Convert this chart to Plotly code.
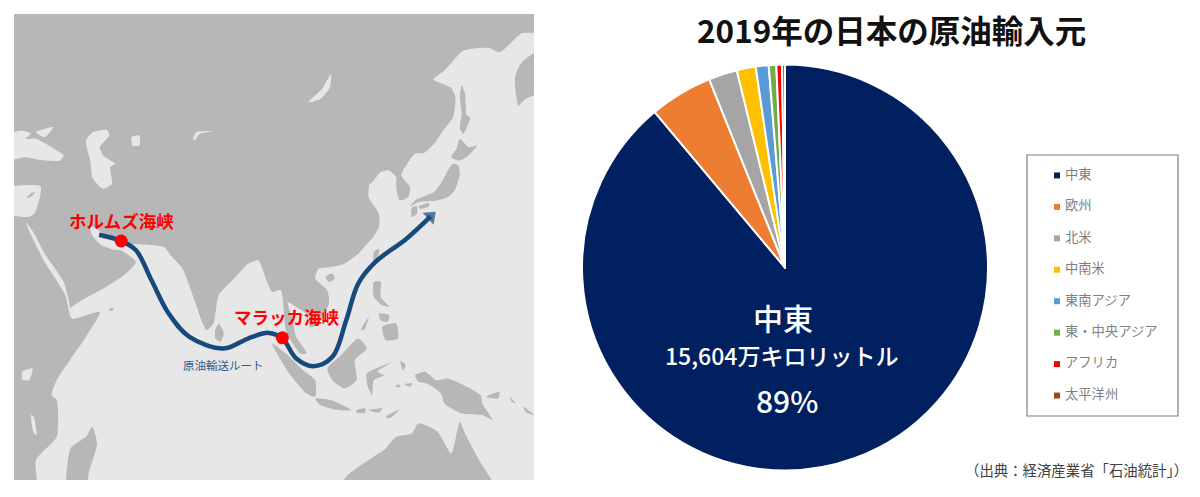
import plotly.graph_objects as go

# ---- pie data ----
regions = ["中東", "欧州", "北米", "中南米", "東南アジア", "東・中央アジア", "アフリカ", "太平洋州"]
volumes = [15604, 880, 400, 265, 180, 105, 80, 40]
colors = ["#002060", "#ed7d31", "#a5a5a5", "#ffc000", "#5b9bd5", "#70ad47", "#ff0000", "#9e480e"]
legend_x = [0] * 8
legend_rank = list(range(8))

LAND = "#b7b7b7"
SEA = "#e7e7e7"
ROUTE = "#174a7c"
OFF = 720  # the lower half of the map outlines is listed from this row


def low(pts):
    return [(x, y + OFF) for x, y in pts]


# ---- map outlines (map units); points beyond the frame are clipped by the axes ----
eurasia_africa = [(-100, -100), (1700, -100), (1700, 98), (1515, 98), (1480, 130), (1450, 155), (1420, 142), (1345, 150),
                  (1320, 175), (1290, 210), (1258, 237), (1285, 250), (1310, 262), (1322, 290), (1315, 350), (1290, 385),
                  (1260, 430), (1230, 458), (1205, 460), (1170, 510), (1165, 525), (1190, 560), (1185, 590), (1160, 600),
                  (1150, 560), (1150, 530), (1130, 510), (1105, 515), (1075, 550), (1050, 530), (1090, 498), (1100, 510),
                  (1075, 540), (1070, 590), (1100, 640), (1100, 680), (1080, 715)] + low([
                  (1075, 0), (1040, 40), (1000, 70), (960, 80), (925, 85), (915, 115), (950, 150), (955, 190), (925, 250),
                  (900, 262), (895, 225), (860, 200), (835, 185), (850, 240), (860, 290), (890, 340), (872, 340), (850, 310),
                  (830, 270), (815, 150), (790, 155), (770, 110), (750, 60), (720, 70), (680, 115), (635, 165), (620, 250),
                  (600, 270), (585, 240), (565, 180), (530, 85), (500, 50), (475, 20), (395, 12)]) + [
                  (370, 730), (300, 700), (262, 675), (268, 705), (295, 735), (330, 748)] + low([
                  (350, 30), (395, 65), (360, 105), (300, 145), (205, 205), (210, 235), (290, 215), (250, 290), (165, 420),
                  (150, 465), (165, 480), (165, 590), (105, 660), (108, 800), (-100, 800)])

islands = [
    [(1310, 470), (1325, 445), (1335, 415), (1360, 440), (1385, 435), (1360, 465), (1335, 480)],
    [(1315, 490), (1330, 495), (1335, 520), (1320, 570), (1300, 590), (1270, 600), (1215, 605), (1190, 620),
     (1205, 600), (1260, 575), (1285, 540), (1300, 510)],
    [(1195, 622), (1210, 617), (1210, 640), (1195, 650)],
    [(1215, 618), (1245, 608), (1245, 618), (1220, 625)],
    [(1340, 255), (1350, 280), (1355, 345), (1365, 350), (1345, 400), (1335, 385), (1340, 340), (1335, 290)],
    [(1650, 100), (1515, 185), (1495, 230), (1505, 315), (1525, 295), (1650, 240)],
    [(92, 578), (102, 575), (90, 590), (78, 592)],
    low([(1085, 35), (1100, 25), (1098, 50), (1085, 65)]),
    low([(945, 110), (965, 100), (972, 115), (955, 125)]),
    low([(1085, 125), (1105, 125), (1105, 170), (1130, 200), (1110, 195), (1085, 170)]),
    low([(1110, 260), (1150, 250), (1155, 295), (1120, 300)]),
    low([(1100, 220), (1130, 225), (1125, 245), (1105, 240)]),
    low([(1048, 268), (1070, 232), (1058, 268)]),
    low([(1040, 295), (1065, 325), (1030, 360), (1035, 420), (1000, 445), (965, 420), (950, 385), (990, 345)]),
    low([(1065, 400), (1135, 368), (1095, 395), (1115, 405), (1085, 420), (1080, 465), (1065, 430)]),
    low([(790, 310), (830, 340), (880, 390), (915, 420), (915, 470), (890, 460), (840, 400)]),
    low([(915, 475), (960, 480), (1020, 510), (980, 510), (930, 495)]),
    low([(1035, 510), (1060, 505), (1060, 518), (1035, 518)]),
    low([(1070, 510), (1110, 505), (1100, 518)]),
    low([(1120, 530), (1160, 508), (1130, 535)]),
    low([(1150, 435), (1160, 433), (1160, 441), (1150, 441)]),
    low([(1175, 432), (1198, 430), (1190, 440)]),
    low([(1162, 362), (1178, 375), (1170, 392)]),
    low([(1205, 405), (1235, 395), (1265, 420), (1300, 415), (1395, 465), (1400, 490), (1430, 540), (1400, 525),
         (1340, 520), (1290, 490), (1280, 460), (1240, 430), (1215, 425)]),
    low([(1410, 470), (1450, 455), (1445, 475)]),
    low([(1480, 470), (1497, 490), (1485, 485)]),
    low([(1520, 500), (1550, 525), (1525, 515)]),
    low([(960, 800), (1005, 710), (1100, 640), (1115, 630), (1150, 590), (1195, 580), (1215, 550), (1270, 575),
         (1310, 640), (1335, 545), (1350, 580), (1385, 650), (1460, 800)]),
    low([(195, 800), (205, 625), (250, 590), (268, 560), (282, 610), (260, 690), (235, 800)]),
    low([(625, 270), (635, 250), (650, 280), (640, 305), (625, 295)]),
    low([(318, 205), (330, 205), (328, 211), (318, 211)]),
]

waters = [
    [(-20, 425), (60, 390), (90, 400), (75, 415), (105, 415), (150, 440), (185, 465), (175, 480), (130, 480), (70, 470), (-20, 490)],
    [(105, 395), (155, 380), (130, 410)],
    [(250, 420), (270, 395), (310, 388), (318, 405), (290, 440), (300, 465), (335, 490), (320, 500), (325, 550), (300, 565),
     (270, 535), (262, 480)],
    [(382, 410), (405, 405), (405, 435), (385, 435)],
    [(560, 415), (570, 395), (618, 392), (580, 400), (565, 420)],
    [(895, 305), (935, 265), (960, 222), (958, 260), (930, 295)],
    [(-20, 570), (118, 558), (100, 640), (80, 650), (-20, 628)],
    [(75, 665), (100, 700)] + low([(130, 40), (185, 125), (205, 205), (205, 235), (190, 165), (130, 65), (100, 5)]),
    low([(65, 395), (95, 385), (85, 420), (65, 418)]),
    low([(90, 525), (98, 530), (107, 585), (98, 578)]),
]

route_x = [288, 352, 395, 440, 490, 550, 650, 720, 780, 820, 860, 910, 965, 1005, 1040, 1090, 1180, 1250]
route_y = [703, 722, 750, 840, 940, 1010, 1045, 1015, 998, 1015, 1075, 1098, 1070, 960, 850, 785, 715, 648]
straits = ["ホルムズ海峡", "マラッカ海峡"]
strait_x = [352, 820]
strait_y = [722, 1013]


def flat(polys):
    xs, ys = [], []
    for p in polys:
        xs += [a for a, _ in p] + [p[0][0], None]
        ys += [b for _, b in p] + [p[0][1], None]
    return xs, ys


W, H = 1200, 497
JP = "Noto Sans CJK JP"
JPM = "Noto Sans CJK JP Medium, Noto Sans CJK JP"
fig = go.Figure()
coast = dict(width=0, shape="spline", smoothing=0.6)

for polys, tint in ((([eurasia_africa]), LAND), (waters, SEA), (islands, LAND)):
    px, py = flat(polys)
    fig.add_trace(go.Scatter(x=px, y=py, mode="lines", fill="toself", fillcolor=tint, line=coast,
                             xaxis="x2", yaxis="y2", hoverinfo="skip", showlegend=False))
fig.add_trace(go.Scatter(x=route_x, y=route_y, mode="lines", line=dict(color=ROUTE, width=4.5, shape="spline", smoothing=1),
                         xaxis="x2", yaxis="y2", hoverinfo="skip", showlegend=False))
fig.add_trace(go.Scatter(x=route_x[-2:], y=route_y[-2:], mode="markers",
                         marker=dict(symbol="triangle-up", size=[0, 14], color=ROUTE, angleref="previous", line=dict(width=0)),
                         xaxis="x2", yaxis="y2", hoverinfo="skip", showlegend=False))
fig.add_trace(go.Scatter(x=strait_x, y=strait_y, mode="markers", marker=dict(color="#ff0000", size=13, line=dict(width=0)),
                         xaxis="x2", yaxis="y2", hoverinfo="skip", showlegend=False))

fig.add_trace(go.Pie(labels=regions, values=volumes, sort=False, direction="clockwise", rotation=0,
                     marker=dict(colors=colors, line=dict(color="white", width=2)), textinfo="none",
                     domain=dict(x=[(785 - 203) / W, (785 + 203) / W], y=[(497 - 267.5 - 203) / H, (497 - 267.5 + 203) / H]),
                     showlegend=False, hoverinfo="label+value"))

fig.add_trace(go.Scatter(x=legend_x, y=legend_rank, mode="markers", marker=dict(symbol="square", size=6, color=colors, line=dict(width=0)),
                         xaxis="x3", yaxis="y3", hoverinfo="skip", showlegend=False))
fig.add_trace(go.Scatter(x=[8] * 8, y=legend_rank, mode="text", text=regions, textposition="middle right",
                         textfont=dict(size=13.3, color="#7f7f7f", family=JP),
                         xaxis="x3", yaxis="y3", hoverinfo="skip", showlegend=False))

share = round(volumes[0] / sum(volumes) * 100)
C = dict(xanchor="center", yanchor="middle", showarrow=False)
anns = [
    dict(text="<b>2019年の日本の原油輸入元</b>", xref="paper", yref="paper", x=891.5 / W, y=1 - 29 / H, font=dict(size=31.5, color="#111111", family=JP), **C),
    dict(text=regions[0], xref="paper", yref="paper", x=783 / W, y=1 - 317 / H, font=dict(size=30, color="white", family=JPM), **C),
    dict(text=f"{volumes[0]:,}万キロリットル", xref="paper", yref="paper", x=782 / W, y=1 - 355 / H, font=dict(size=23, color="white", family=JPM), **C),
    dict(text=f"{share}%", xref="paper", yref="paper", x=787 / W, y=1 - 400 / H, font=dict(size=30, color="white", family=JPM), **C),
    dict(text="（出典：経済産業省「石油統計」）", xref="paper", yref="paper", x=1076 / W, y=1 - 469 / H, font=dict(size=14.4, color="#404040", family=JP), **C),
    dict(text="<b>" + straits[0] + "</b>", xref="x2", yref="y2", x=354, y=659, font=dict(size=17.5, color="#ff0000", family=JP), **C),
    dict(text="<b>" + straits[1] + "</b>", xref="x2", yref="y2", x=833, y=948, font=dict(size=17.5, color="#ff0000", family=JP), **C),
    dict(text="原油輸送ルート", xref="x2", yref="y2", x=650, y=1095, font=dict(size=11.5, color="#2f5d8c", family=JP), **C),
]

hidden = dict(visible=False, fixedrange=True)
fig.update_layout(
    width=W, height=H, margin=dict(l=0, r=0, t=0, b=0), paper_bgcolor="white", plot_bgcolor="rgba(0,0,0,0)",
    annotations=anns, showlegend=False,
    xaxis2=dict(domain=[14 / W, 534 / W], range=[41, 1550], anchor="y2", **hidden),
    yaxis2=dict(domain=[1 - 480 / H, 1 - 14 / H], range=[1440, 40], anchor="x2", **hidden),
    xaxis3=dict(domain=[1027 / W, 1178 / W], range=[-30, 121], anchor="y3", **hidden),
    yaxis3=dict(domain=[1 - 416 / H, 1 - 155 / H], range=[7 + 0.65, -0.65], anchor="x3", **hidden),
    shapes=[
        dict(type="rect", xref="paper", yref="paper", x0=14 / W, x1=534 / W, y0=1 - 480 / H, y1=1 - 14 / H,
             fillcolor=SEA, line=dict(width=0), layer="below"),
        dict(type="rect", xref="paper", yref="paper", x0=1027 / W, x1=1178 / W, y0=1 - 416 / H, y1=1 - 155 / H,
             fillcolor="white", line=dict(color="#7f7f7f", width=1.2), layer="below"),
    ],
)
fig.write_html("out.html", config=dict(displayModeBar=False),
               post_script="document.body.style.margin='0';document.documentElement.style.overflow='hidden';")
